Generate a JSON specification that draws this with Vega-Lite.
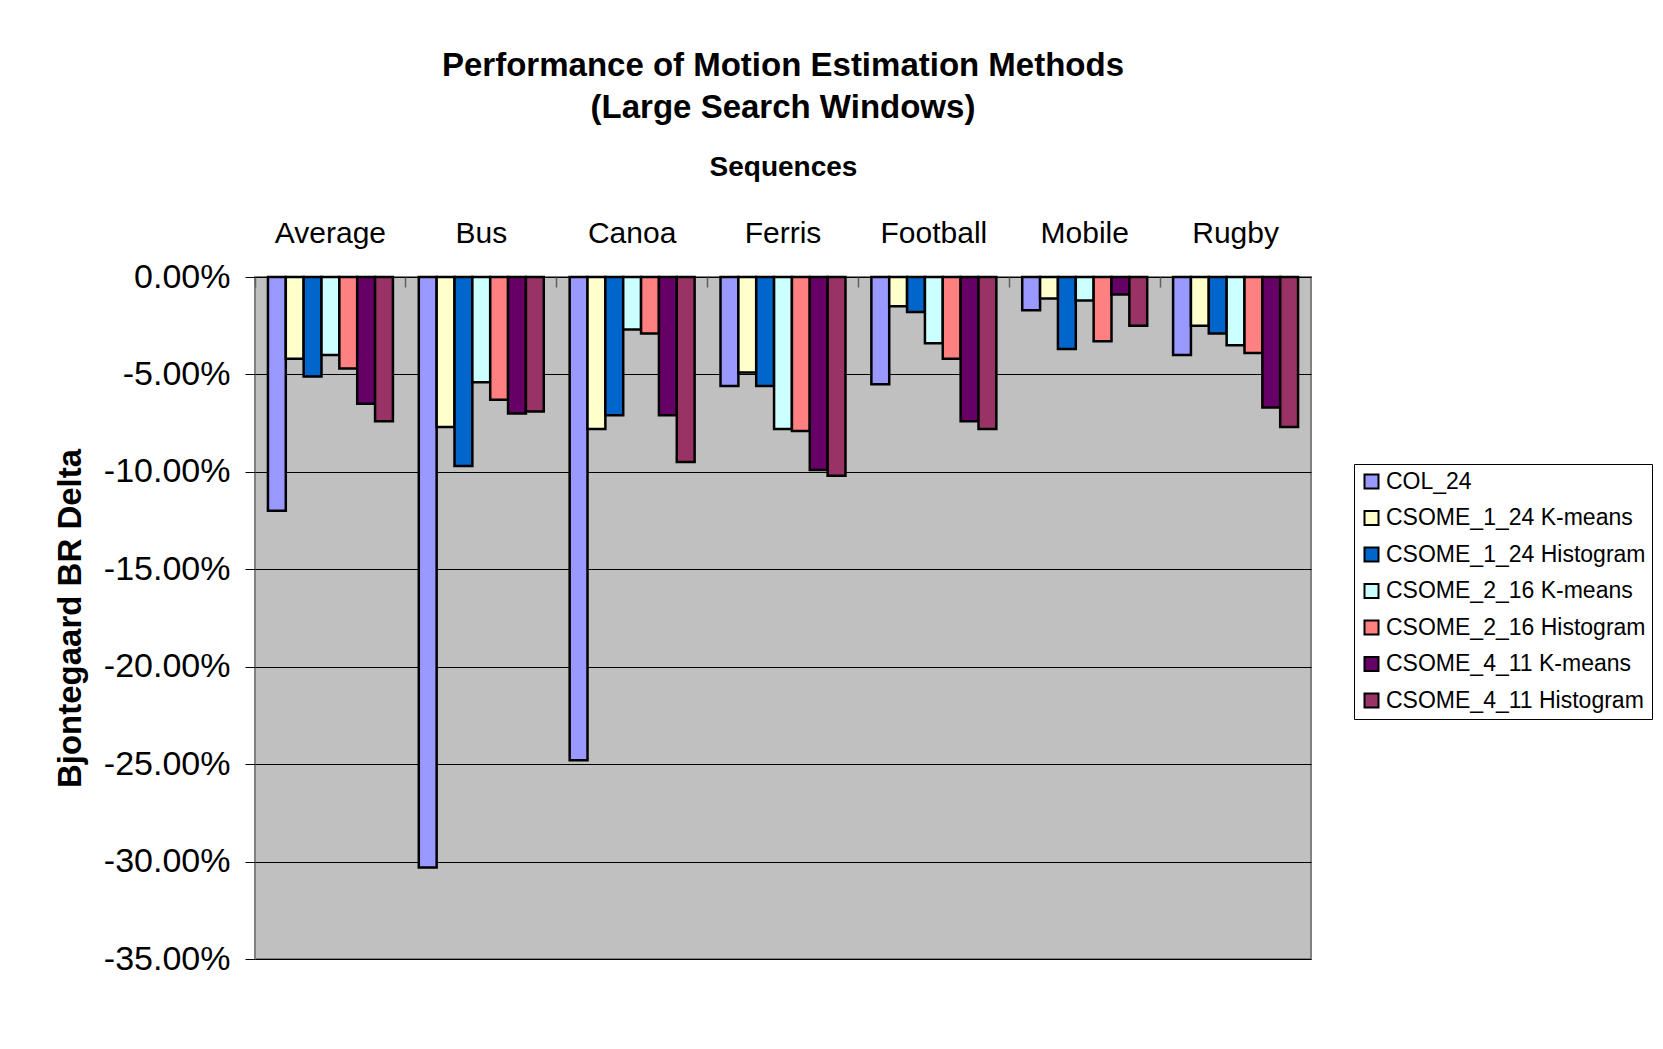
{
  "$schema": "https://vega.github.io/schema/vega-lite/v6.json",
  "width": 1056,
  "height": 682,
  "autosize": {"type": "none"},
  "padding": {"left": 255, "top": 277, "right": 352, "bottom": 90},
  "background": "white",
  "title": {
    "text": ["Performance of Motion Estimation Methods", "(Large Search Windows)"],
    "fontSize": 33,
    "fontWeight": "bold",
    "lineHeight": 42,
    "anchor": "middle",
    "frame": "group",
    "offset": 28,
    "color": "black"
  },
  "data": {
    "values": [
      {"sequence": "Average", "method": "COL_24", "delta": -12.0},
      {"sequence": "Average", "method": "CSOME_1_24 K-means", "delta": -4.2},
      {"sequence": "Average", "method": "CSOME_1_24 Histogram", "delta": -5.1},
      {"sequence": "Average", "method": "CSOME_2_16 K-means", "delta": -4.0},
      {"sequence": "Average", "method": "CSOME_2_16 Histogram", "delta": -4.7},
      {"sequence": "Average", "method": "CSOME_4_11 K-means", "delta": -6.5},
      {"sequence": "Average", "method": "CSOME_4_11 Histogram", "delta": -7.4},
      {"sequence": "Bus", "method": "COL_24", "delta": -30.3},
      {"sequence": "Bus", "method": "CSOME_1_24 K-means", "delta": -7.7},
      {"sequence": "Bus", "method": "CSOME_1_24 Histogram", "delta": -9.7},
      {"sequence": "Bus", "method": "CSOME_2_16 K-means", "delta": -5.4},
      {"sequence": "Bus", "method": "CSOME_2_16 Histogram", "delta": -6.3},
      {"sequence": "Bus", "method": "CSOME_4_11 K-means", "delta": -7.0},
      {"sequence": "Bus", "method": "CSOME_4_11 Histogram", "delta": -6.9},
      {"sequence": "Canoa", "method": "COL_24", "delta": -24.8},
      {"sequence": "Canoa", "method": "CSOME_1_24 K-means", "delta": -7.8},
      {"sequence": "Canoa", "method": "CSOME_1_24 Histogram", "delta": -7.1},
      {"sequence": "Canoa", "method": "CSOME_2_16 K-means", "delta": -2.7},
      {"sequence": "Canoa", "method": "CSOME_2_16 Histogram", "delta": -2.9},
      {"sequence": "Canoa", "method": "CSOME_4_11 K-means", "delta": -7.1},
      {"sequence": "Canoa", "method": "CSOME_4_11 Histogram", "delta": -9.5},
      {"sequence": "Ferris", "method": "COL_24", "delta": -5.6},
      {"sequence": "Ferris", "method": "CSOME_1_24 K-means", "delta": -4.9},
      {"sequence": "Ferris", "method": "CSOME_1_24 Histogram", "delta": -5.6},
      {"sequence": "Ferris", "method": "CSOME_2_16 K-means", "delta": -7.8},
      {"sequence": "Ferris", "method": "CSOME_2_16 Histogram", "delta": -7.9},
      {"sequence": "Ferris", "method": "CSOME_4_11 K-means", "delta": -9.9},
      {"sequence": "Ferris", "method": "CSOME_4_11 Histogram", "delta": -10.2},
      {"sequence": "Football", "method": "COL_24", "delta": -5.5},
      {"sequence": "Football", "method": "CSOME_1_24 K-means", "delta": -1.5},
      {"sequence": "Football", "method": "CSOME_1_24 Histogram", "delta": -1.8},
      {"sequence": "Football", "method": "CSOME_2_16 K-means", "delta": -3.4},
      {"sequence": "Football", "method": "CSOME_2_16 Histogram", "delta": -4.2},
      {"sequence": "Football", "method": "CSOME_4_11 K-means", "delta": -7.4},
      {"sequence": "Football", "method": "CSOME_4_11 Histogram", "delta": -7.8},
      {"sequence": "Mobile", "method": "COL_24", "delta": -1.7},
      {"sequence": "Mobile", "method": "CSOME_1_24 K-means", "delta": -1.1},
      {"sequence": "Mobile", "method": "CSOME_1_24 Histogram", "delta": -3.7},
      {"sequence": "Mobile", "method": "CSOME_2_16 K-means", "delta": -1.2},
      {"sequence": "Mobile", "method": "CSOME_2_16 Histogram", "delta": -3.3},
      {"sequence": "Mobile", "method": "CSOME_4_11 K-means", "delta": -0.9},
      {"sequence": "Mobile", "method": "CSOME_4_11 Histogram", "delta": -2.5},
      {"sequence": "Rugby", "method": "COL_24", "delta": -4.0},
      {"sequence": "Rugby", "method": "CSOME_1_24 K-means", "delta": -2.5},
      {"sequence": "Rugby", "method": "CSOME_1_24 Histogram", "delta": -2.9},
      {"sequence": "Rugby", "method": "CSOME_2_16 K-means", "delta": -3.5},
      {"sequence": "Rugby", "method": "CSOME_2_16 Histogram", "delta": -3.9},
      {"sequence": "Rugby", "method": "CSOME_4_11 K-means", "delta": -6.7},
      {"sequence": "Rugby", "method": "CSOME_4_11 Histogram", "delta": -7.7}
    ]
  },
  "mark": {"type": "bar", "stroke": "black", "strokeWidth": 2.5},
  "encoding": {
    "x": {
      "field": "sequence",
      "type": "nominal",
      "sort": ["Average", "Bus", "Canoa", "Ferris", "Football", "Mobile", "Rugby"],
      "scale": {"paddingInner": 0, "paddingOuter": 0},
      "axis": {
        "orient": "top",
        "title": "Sequences",
        "titleFontSize": 28,
        "titleFontWeight": "bold",
        "titleColor": "black",
        "titleY": -110,
        "titleBaseline": "middle",
        "labelAngle": 0,
        "labelFontSize": 30,
        "labelColor": "black",
        "labelPadding": 39,
        "domain": false,
        "ticks": true,
        "tickSize": -10,
        "tickColor": "#606060",
        "tickWidth": 1.5,
        "bandPosition": 0
      }
    },
    "xOffset": {
      "field": "method",
      "type": "nominal",
      "sort": ["COL_24", "CSOME_1_24 K-means", "CSOME_1_24 Histogram", "CSOME_2_16 K-means", "CSOME_2_16 Histogram", "CSOME_4_11 K-means", "CSOME_4_11 Histogram"],
      "scale": {"paddingInner": 0, "paddingOuter": 0.725}
    },
    "y": {
      "field": "delta",
      "type": "quantitative",
      "scale": {"domain": [-35, 0], "nice": false},
      "axis": {
        "values": [0, -5, -10, -15, -20, -25, -30, -35],
        "labelExpr": "replace(format(datum.value, '.2f'), '\u2212', '-') + '%'",
        "grid": true,
        "gridColor": "black",
        "gridWidth": 1,
        "gridOpacity": 1,
        "domain": false,
        "ticks": true,
        "tickSize": 10,
        "tickColor": "black",
        "labelFontSize": 34,
        "labelColor": "black",
        "labelPadding": 15,
        "title": "Bjontegaard BR Delta",
        "titleFontSize": 33,
        "titleFontWeight": "bold",
        "titleColor": "black",
        "titleX": -185,
        "titleY": 341,
        "titleAngle": 270,
        "titleBaseline": "middle",
        "titleAlign": "center"
      }
    },
    "color": {
      "field": "method",
      "type": "nominal",
      "scale": {
        "domain": ["COL_24", "CSOME_1_24 K-means", "CSOME_1_24 Histogram", "CSOME_2_16 K-means", "CSOME_2_16 Histogram", "CSOME_4_11 K-means", "CSOME_4_11 Histogram"],
        "range": ["#9999FF", "#FFFFCC", "#0066CC", "#CCFFFF", "#FF8080", "#660066", "#993366"]
      },
      "legend": {
        "title": null,
        "orient": "none",
        "legendX": 1099,
        "legendY": 187,
        "symbolType": "square",
        "symbolSize": 196,
        "symbolStrokeColor": "black",
        "symbolStrokeWidth": 2,
        "symbolOpacity": 1,
        "labelFontSize": 23,
        "labelColor": "black",
        "labelLimit": 0,
        "labelOffset": 3,
        "rowPadding": 12.5,
        "padding": 6,
        "strokeColor": "black",
        "fillColor": "white"
      }
    }
  },
  "config": {
    "font": "Liberation Sans",
    "view": {"fill": "#C0C0C0", "stroke": "#808080", "strokeWidth": 2}
  }
}
